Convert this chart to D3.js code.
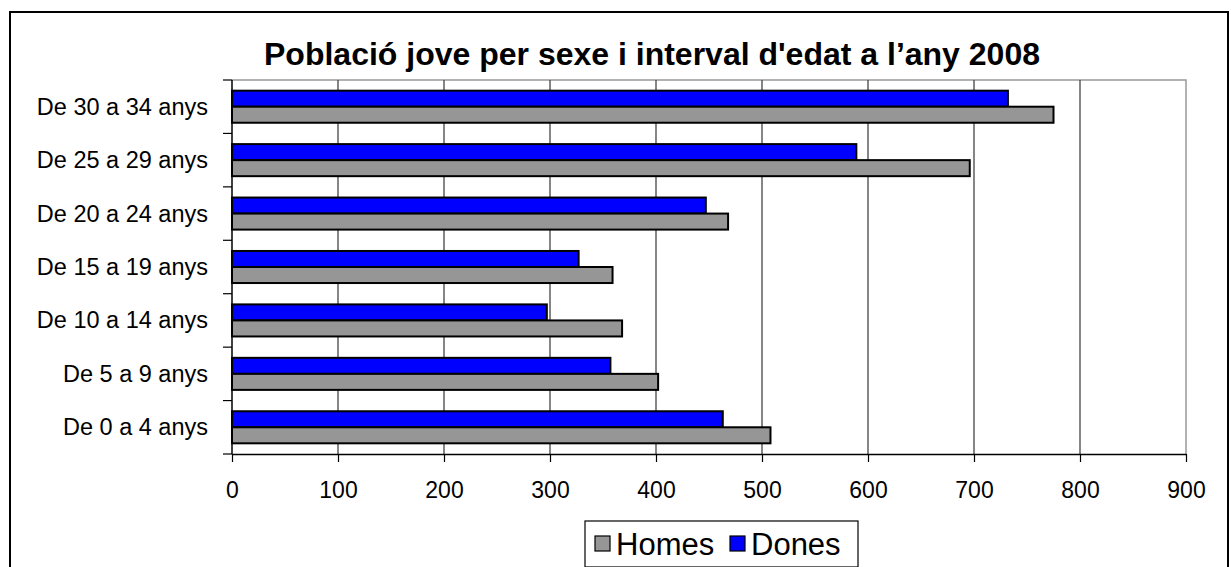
<!DOCTYPE html>
<html>
<head>
<meta charset="utf-8">
<script src="https://cdn.jsdelivr.net/npm/d3@7"></script>
<style>
  body { margin: 0; background: #fff; }
  svg { display: block; font-family: "Liberation Sans", Arial, sans-serif; }
</style>
</head>
<body>
<div id="main-content"></div>
<script>
// Data, top row first
const categories = [
  "De 30 a 34 anys",
  "De 25 a 29 anys",
  "De 20 a 24 anys",
  "De 15 a 19 anys",
  "De 10 a 14 anys",
  "De 5 a 9 anys",
  "De 0 a 4 anys"
];
const dones = [732, 589, 447, 327, 297, 357, 463];
const homes = [775, 696, 468, 359, 368, 402, 508];
const xTicks = [0, 100, 200, 300, 400, 500, 600, 700, 800, 900];
const seriesNames = ["Dones", "Homes"];
const legendNames = ["Homes", "Dones"];
const title = "Població jove per sexe i interval d'edat a l’any 2008";

const width = 1231;
const height = 567;
const colors = { Dones: "#0000ff", Homes: "#969696" };

const svg = d3
  .select("#main-content")
  .append("svg")
  .attr("width", width)
  .attr("height", height);

// Outer frame of the chart
svg
  .append("rect")
  .attr("x", 10)
  .attr("y", 12)
  .attr("width", 1218)
  .attr("height", 600)
  .attr("fill", "#fff")
  .attr("stroke", "#000")
  .attr("stroke-width", 2);

svg
  .append("text")
  .attr("x", 652)
  .attr("y", 65)
  .attr("text-anchor", "middle")
  .attr("font-size", 32)
  .attr("font-weight", "bold")
  .text(title);

// Scales
const plot = { left: 232, right: 1186, top: 80, bottom: 454 };

const x = d3
  .scaleLinear()
  .domain([0, 900])
  .range([plot.left, plot.right]);

const y = d3
  .scaleBand()
  .domain(categories)
  .range([plot.top, plot.bottom])
  .paddingInner(0.4)
  .paddingOuter(0.2);

const ySeries = d3
  .scaleBand()
  .domain(seriesNames)
  .range([0, y.bandwidth()]);

// Plot frame: grey top and right edges
svg
  .append("path")
  .attr("d", `M${plot.left},${plot.top}H${plot.right}V${plot.bottom}`)
  .attr("fill", "none")
  .attr("stroke", "#999")
  .attr("stroke-width", 1.5);

// Vertical gridlines
svg
  .append("g")
  .selectAll("line")
  .data(xTicks.slice(1, -1))
  .enter()
  .append("line")
  .attr("x1", d => x(d))
  .attr("x2", d => x(d))
  .attr("y1", plot.top)
  .attr("y2", plot.bottom)
  .attr("stroke", "#444")
  .attr("stroke-width", 1.3);

// Bars
const rows = categories.map((c, i) => ({
  category: c,
  values: [
    { name: "Dones", value: dones[i] },
    { name: "Homes", value: homes[i] }
  ]
}));

svg
  .append("g")
  .selectAll("g")
  .data(rows)
  .enter()
  .append("g")
  .attr("transform", d => `translate(0,${y(d.category)})`)
  .selectAll("rect")
  .data(d => d.values)
  .enter()
  .append("rect")
  .attr("x", x(0))
  .attr("y", d => ySeries(d.name))
  .attr("width", d => x(d.value) - x(0))
  .attr("height", ySeries.bandwidth())
  .attr("fill", d => colors[d.name])
  .attr("stroke", "#000")
  .attr("stroke-width", 2);

// X axis
const xAxis = svg
  .append("g")
  .attr("transform", `translate(0,${plot.bottom})`)
  .call(d3.axisBottom(x).tickValues(xTicks).tickSize(8).tickSizeOuter(0));
xAxis.select(".domain").attr("stroke", "#000").attr("stroke-width", 1.5);
xAxis.selectAll(".tick line").attr("stroke", "#000").attr("stroke-width", 1.2);
xAxis
  .selectAll(".tick text")
  .attr("y", 0)
  .attr("dy", 0)
  .attr("transform", "translate(0,44)")
  .attr("font-size", 23)
  .attr("font-family", "Liberation Sans, Arial, sans-serif")
  .attr("fill", "#000");

// Y axis: ticks sit between categories
const yTickPos = d3.range(categories.length + 1).map(
  i => plot.top + (i * (plot.bottom - plot.top)) / categories.length
);
svg
  .append("line")
  .attr("x1", plot.left)
  .attr("x2", plot.left)
  .attr("y1", plot.top)
  .attr("y2", plot.bottom)
  .attr("stroke", "#000")
  .attr("stroke-width", 1.5);
svg
  .append("g")
  .selectAll("line")
  .data(yTickPos)
  .enter()
  .append("line")
  .attr("x1", plot.left - 9)
  .attr("x2", plot.left)
  .attr("y1", d => d)
  .attr("y2", d => d)
  .attr("stroke", "#000")
  .attr("stroke-width", 1.2);

svg
  .append("g")
  .selectAll("text")
  .data(categories)
  .enter()
  .append("text")
  .attr("x", 208)
  .attr("y", d => y(d) + y.bandwidth() / 2 + 8)
  .attr("text-anchor", "end")
  .attr("font-size", 23.5)
  .text(d => d);

// Legend
const legend = svg.append("g").attr("transform", "translate(585,521)");
legend
  .append("rect")
  .attr("width", 273)
  .attr("height", 46)
  .attr("fill", "#fff")
  .attr("stroke", "#000")
  .attr("stroke-width", 1.2);

const legendX = [10, 145];
const legendItems = legend
  .selectAll("g")
  .data(legendNames)
  .enter()
  .append("g")
  .attr("transform", (d, i) => `translate(${legendX[i]},0)`);

legendItems
  .append("rect")
  .attr("x", 0)
  .attr("y", 15)
  .attr("width", 15)
  .attr("height", 15)
  .attr("fill", d => colors[d])
  .attr("stroke", "#000")
  .attr("stroke-width", 1.2);

legendItems
  .append("text")
  .attr("x", 21)
  .attr("y", 34)
  .attr("font-size", 31)
  .text(d => d);
</script>
</body>
</html>
